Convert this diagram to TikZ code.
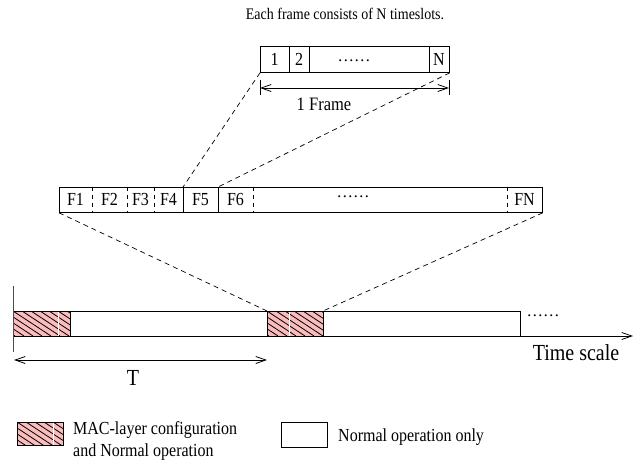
\documentclass[tikz,border=0pt]{standalone}
\usepackage{fontspec}
\usepackage{graphicx}
\setmainfont{Liberation Serif}
\usetikzlibrary{arrows.meta}
\definecolor{hatchpink}{RGB}{250,188,188}
\newcommand{\vst}[1]{\scalebox{1}[1.15]{#1}}
\newcommand{\hatchbox}[4]{%
  \fill[hatchpink] (#1,#2) rectangle (#3,#4);
  \begin{scope}
    \clip (#1,#2) rectangle (#3,#4);
    \foreach \hx in {-45,-36,...,60} \draw[hatchline] ({#1+\hx},#2) -- ++(38,25);
  \end{scope}}
\tikzset{
  cell/.style={inner sep=0pt, outer sep=0pt, minimum height=25pt, anchor=north west, font=\fontsize{16}{19}\selectfont},
  boxline/.style={line width=0.8pt},
  hatchline/.style={line width=0.8pt, black},
  conn/.style={line width=0.7pt, dash pattern=on 5pt off 4pt},
  divdash/.style={line width=0.6pt, dash pattern=on 4pt off 4pt},
  barb/.style={line width=0.8pt, arrows={-Straight Barb[length=10pt,width=7pt]}},
  dbarb/.style={line width=0.8pt, arrows={Straight Barb[length=10pt,width=7pt]-Straight Barb[length=10pt,width=7pt]}},
  lbl/.style={inner sep=0pt, font=\fontsize{16.5}{19}\selectfont},
}
\begin{document}
\begin{tikzpicture}[x=1pt,y=-1pt]
\useasboundingbox (0,0) rectangle (641,466);

% title
\node[inner sep=0pt, font=\fontsize{14}{16}\selectfont] (title) at (345,14) {\vst{Each frame consists of N timeslots.}};

% top frame (timeslots)
\node[draw, boxline, minimum width=189pt, minimum height=26pt, inner sep=0pt, anchor=north west] (tbox) at (260,46) {};
\node[cell, minimum width=29pt, minimum height=26pt] (t1) at (260,46) {\vst{1}};
\node[cell, minimum width=20pt, minimum height=26pt] (t2) at (289,46) {\vst{2}};
\node[cell, minimum width=120pt, minimum height=26pt] (tdots) at (309,46) {};
\node[cell, minimum width=20pt, minimum height=26pt] (tN) at (429,46) {\vst{N}};
\node[lbl] (tdl) at (354,61) {\ldots\ldots};
\draw[boxline] (t1.north east) -- (t1.south east);
\draw[boxline] (t2.north east) -- (t2.south east);
\draw[boxline] (tdots.north east) -- (tdots.south east);

% 1 Frame dimension
\coordinate (fa) at (260,88);
\coordinate (fb) at (449,88);
\coordinate (fat) at (260,80);
\coordinate (fab) at (260,95);
\coordinate (fbt) at (449,80);
\coordinate (fbb) at (449,95);
\draw[line width=0.7pt] (fat) -- (fab);
\draw[line width=0.7pt] (fbt) -- (fbb);
\draw[dbarb] (fa) -- (fb);
\node[lbl] (oneframe) at (324,104) {\vst{1 Frame}};

% frame row
\node[draw, boxline, minimum width=483pt, minimum height=25pt, inner sep=0pt, anchor=north west] (frow) at (59,187) {};
\node[cell, minimum width=33pt] (f1) at (59,187) {\vst{F1}};
\node[cell, minimum width=35pt] (f2) at (92,187) {\vst{F2}};
\node[cell, minimum width=27pt] (f3) at (127,187) {\vst{F3}};
\node[cell, minimum width=29pt] (f4) at (154,187) {\vst{F4}};
\node[cell, minimum width=35pt] (f5) at (183,187) {\vst{F5}};
\node[cell, minimum width=35pt] (f6) at (218,187) {\vst{F6}};
\node[cell, minimum width=254pt] (fdots) at (253,187) {};
\node[cell, minimum width=35pt] (fN) at (507,187) {\vst{FN}};
\node[lbl] (fdl) at (353,197) {\ldots\ldots};
\draw[divdash] (f1.north east) -- (f1.south east);
\draw[divdash] (f2.north east) -- (f2.south east);
\draw[divdash] (f3.north east) -- (f3.south east);
\draw[boxline] (f4.north east) -- (f4.south east);
\draw[boxline] (f5.north east) -- (f5.south east);
\draw[divdash] (f6.north east) -- (f6.south east);
\draw[divdash] (fdots.north east) -- (fdots.south east);

% bottom time line
\hatchbox{13}{311}{70}{336}
\hatchbox{267}{311}{323}{336}
\node[cell, minimum width=57pt] (b1) at (13,311) {};
\node[cell, minimum width=197pt] (b2) at (70,311) {};
\node[cell, minimum width=56pt] (b3) at (267,311) {};
\node[cell, minimum width=197pt] (b4) at (323,311) {};
\draw[white, line width=1pt] (58,311.5) -- (58,335.5);
\draw[white, line width=1pt] (289,311.5) -- (289,335.5);
\draw[boxline] (b1.north west) -- (b4.north east) -- (b4.south east);
\draw[boxline] (b1.north east) -- (b1.south east);
\draw[boxline] (b3.north west) -- (b3.south west);
\draw[boxline] (b3.north east) -- (b3.south east);
\node[lbl] (bdl) at (543,316) {\ldots\ldots};

% axes
\coordinate (ax0) at (13,336);
\coordinate (axend) at (633,336);
\coordinate (vtop) at (13,286);
\coordinate (vbot) at (13,352);
\draw[barb] (ax0) -- (axend);
\draw[line width=0.7pt, black!70] (vtop) -- (vbot);
\node[inner sep=0pt, font=\fontsize{20}{22}\selectfont] (tscale) at (576,353) {\vst{Time scale}};

% period T
\coordinate (ta) at (14,360);
\coordinate (tb) at (267,360);
\draw[dbarb] (ta) -- (tb);
\node[inner sep=0pt, font=\fontsize{20}{22}\selectfont] (Tlbl) at (133,378) {\vst{T}};

% zoom connectors
\draw[conn] (tbox.south west) -- (f5.north west);
\draw[conn] (tbox.south east) -- (f6.north west);
\draw[conn] (frow.south west) -- (b3.north west);
\draw[conn] (frow.south east) -- (b3.north east);

% legend
\hatchbox{17}{422}{63}{445}
\node[minimum width=46pt, minimum height=23pt, inner sep=0pt, anchor=north west] (leg1) at (17,422) {};
\draw[white, line width=1pt] (53,422.5) -- (53,444.5);
\draw[boxline] (leg1.north west) rectangle (leg1.south east);
\node[inner sep=0pt, anchor=west, align=left, font=\fontsize{16}{22}\selectfont] (leg1t) at (73,441) {\vst{MAC-layer configuration}\\\vst{and Normal operation}};
\node[draw, boxline, minimum width=46pt, minimum height=25pt, inner sep=0pt, anchor=north west] (leg2) at (281,422) {};
\node[inner sep=0pt, anchor=west, font=\fontsize{16}{19}\selectfont] (leg2t) at (338,437) {\vst{Normal operation only}};
\end{tikzpicture}
\end{document}
